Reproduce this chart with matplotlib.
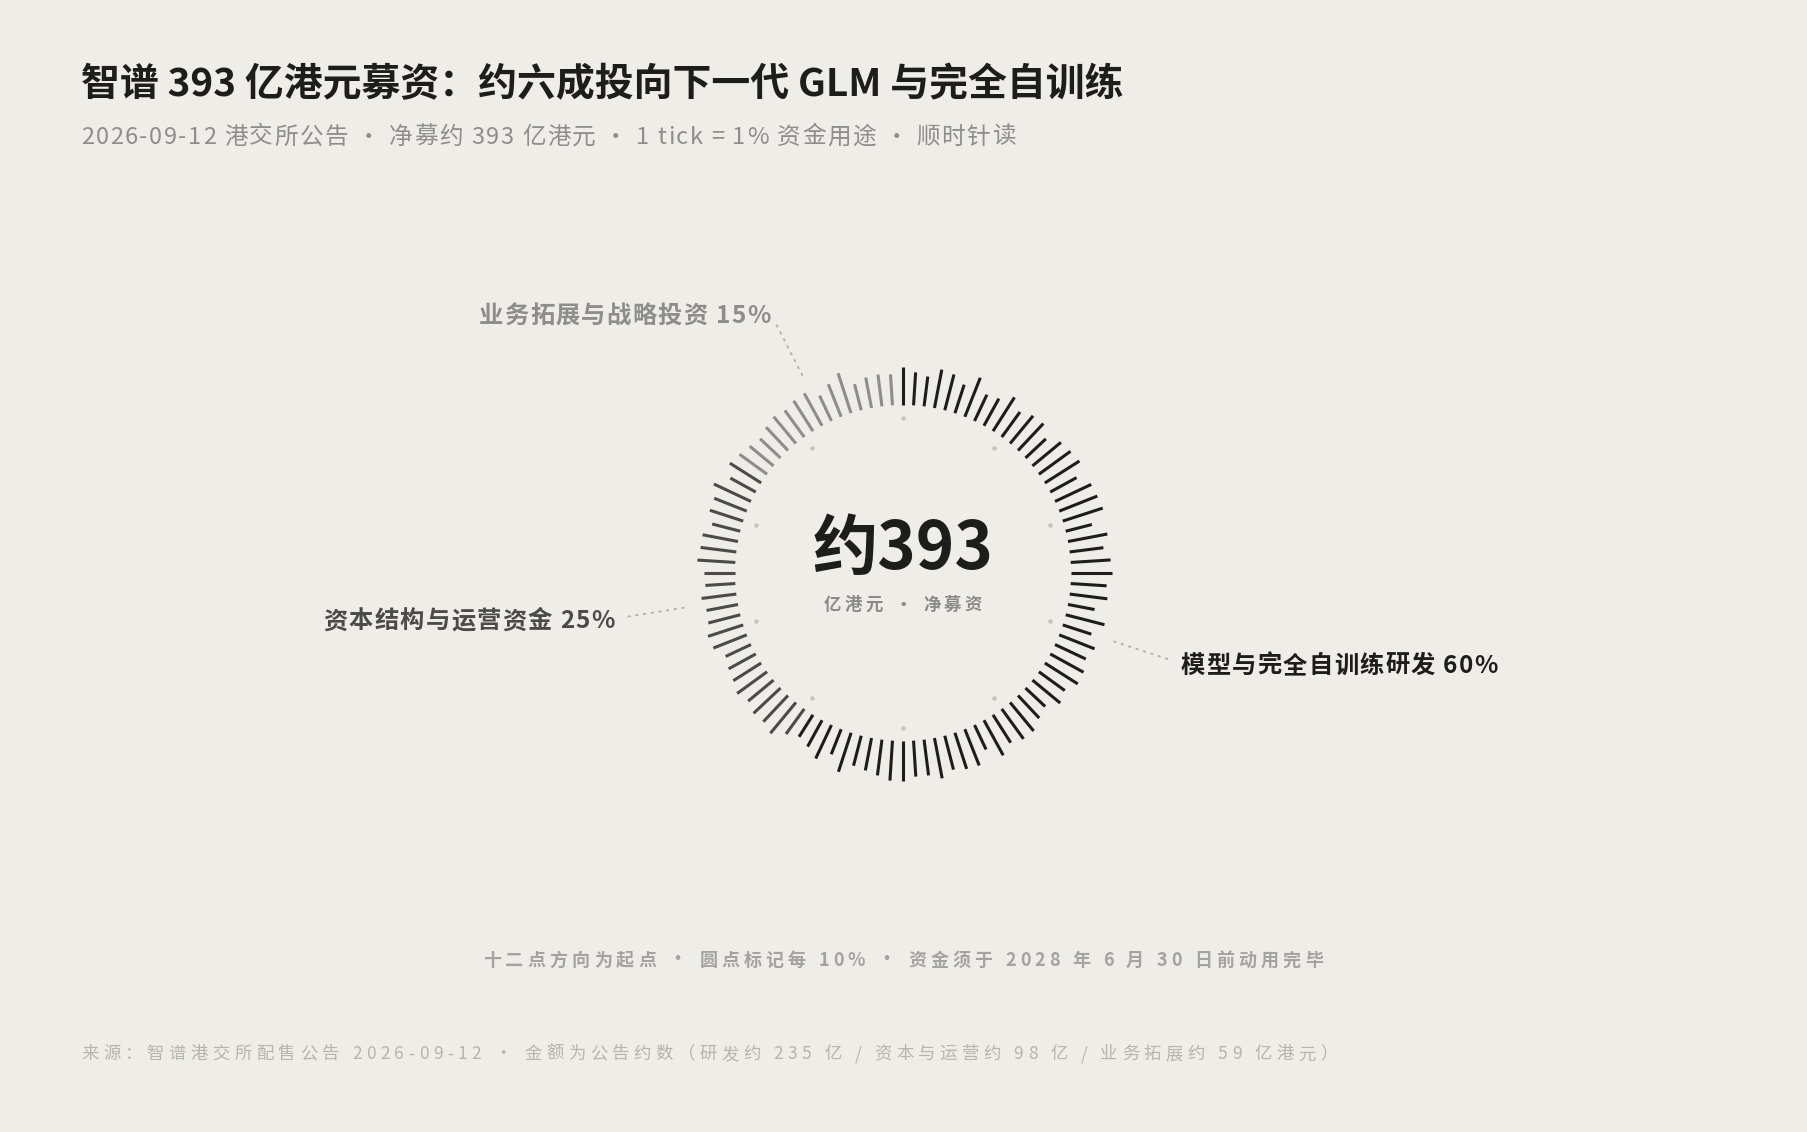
import numpy as np
import matplotlib
matplotlib.use('Agg')
import matplotlib.pyplot as plt
from matplotlib.font_manager import FontProperties

FAMILY = ['Noto Sans CJK SC', 'DejaVu Sans']
plt.rcParams['font.family'] = FAMILY

W, H = 1808, 1132
BG = '#eeede8'

# Data: use of proceeds (share of 100 ticks, 1 tick = 1%)
segments = ['模型与完全自训练研发', '资本结构与运营资金', '业务拓展与战略投资']
shares = [60, 25, 15]
amounts = [235, 98, 59]  # 亿港元
seg_colors = ['#1d1d1b', '#4b4b47', '#8d8d89']

# outer end of every tick (px from the centre), read clockwise from 12 o'clock
tick_outer = [206, 201, 198, 207, 205, 198, 210, 197, 199, 208,
              199, 204, 205, 196, 205, 207, 209, 198, 208, 209,
              210, 195, 208, 202, 208, 209, 204, 206, 195, 208,
              198, 206, 202, 206, 207, 200, 204, 195, 199, 205,
              205, 201, 208, 195, 207, 206, 203, 209, 204, 204,
              208, 208, 204, 201, 199, 209, 195, 205, 198, 194,
              199, 208, 204, 205, 201, 205, 201, 199, 196, 204,
              205, 201, 200, 203, 198, 199, 206, 204, 204, 197,
              203, 203, 209, 197, 205, 202, 199, 196, 200, 203,
              201, 204, 205, 196, 203, 210, 195, 199, 200, 199]
tick_inner = 168

title = '智谱 393 亿港元募资：约六成投向下一代 GLM 与完全自训练'
subtitle = '2026-09-12 港交所公告 · 净募约 393 亿港元 · 1 tick = 1% 资金用途 · 顺时针读'
note = '十二点方向为起点 · 圆点标记每 10% · 资金须于 2028 年 6 月 30 日前动用完毕'
source = ('来源：智谱港交所配售公告 2026-09-12 · 金额为公告约数（研发约 {} 亿 / 资本与运营约 {} 亿 / '
          '业务拓展约 {} 亿港元）').format(*amounts)

fig = plt.figure(figsize=(W / 100, H / 100), dpi=100)
fig.patch.set_facecolor(BG)
renderer = fig.canvas.get_renderer()


def tracked(x, y, s, size, color, weight='normal', ha='left', track=0.0):
    # x, y in pixels from bottom-left, y is the visual middle of the line
    prop = FontProperties(family=FAMILY, size=size, weight=weight)
    widths = [renderer.get_text_width_height_descent(c, prop, ismath=False)[0] for c in s]
    total = sum(widths) + track * (len(s) - 1)
    x0 = x - total / 2 if ha == 'center' else (x - total if ha == 'right' else x)
    base = y - 0.36 * size * 100 / 72
    if track == 0:
        fig.text(x0 / W, base / H, s, fontproperties=prop, color=color, va='baseline')
        return
    for c, w in zip(s, widths):
        fig.text(x0 / W, base / H, c, fontproperties=prop, color=color, va='baseline')
        x0 += w + track


# ring
cx, cy, R = 903, H - 573, 330
ax = fig.add_axes([(cx - R) / W, (cy - R) / H, 2 * R / W, 2 * R / H], projection='polar')
ax.set_theta_zero_location('N')
ax.set_theta_direction(-1)
ax.set_ylim(0, R)
ax.axis('off')

n = len(tick_outer)
theta = 2 * np.pi * np.arange(n) / n
bounds = np.cumsum([0] + shares)
colors = []
for i in range(n):
    k = np.searchsorted(bounds, i, side='right') - 1
    colors.append(seg_colors[k])
ax.vlines(theta, tick_inner, tick_outer, colors=colors, lw=2.2, capstyle='butt')

# dots every 10%
dot_th = 2 * np.pi * np.arange(0, 100, 10) / 100
ax.scatter(dot_th, np.full(len(dot_th), 155), s=10, color='#c4c4bf', lw=0, zorder=3)

# leaders + labels
for name, share, lo, col in zip(segments, shares, bounds[:-1], seg_colors):
    a = 2 * np.pi * (lo + share / 2) / 100
    ax.plot([a, a], [222, 284], color='#b3b3ae', lw=1.4, ls=(0, (0.8, 3.2)),
            solid_capstyle='round', dash_capstyle='round')
    px, py = ax.transData.transform((a, 292))
    tracked(px, py - 1, f'{name} {share}%', 17.5, col, weight='bold',
            ha='left' if np.sin(a) > 0 else 'right', track=1.3)

# centre
tracked(cx, H - 545, '约393', 47, '#1d1d1b', weight='bold', ha='center')
tracked(cx, H - 604, '亿港元 · 净募资', 12.5, '#8a8a86', weight='bold', ha='center', track=3.6)

# header / footer
tracked(81, H - 82, title, 28, '#1d1d1b', weight='bold')
tracked(81, H - 135, subtitle, 17, '#8e8e8a', track=1.55)
tracked(cx, H - 959, note, 13, '#a3a39f', weight='bold', ha='center', track=4.15)
tracked(81, H - 1053, source, 12.5, '#b5b5b0', track=4.5)

fig.savefig('out.png', dpi=100, facecolor=BG)
